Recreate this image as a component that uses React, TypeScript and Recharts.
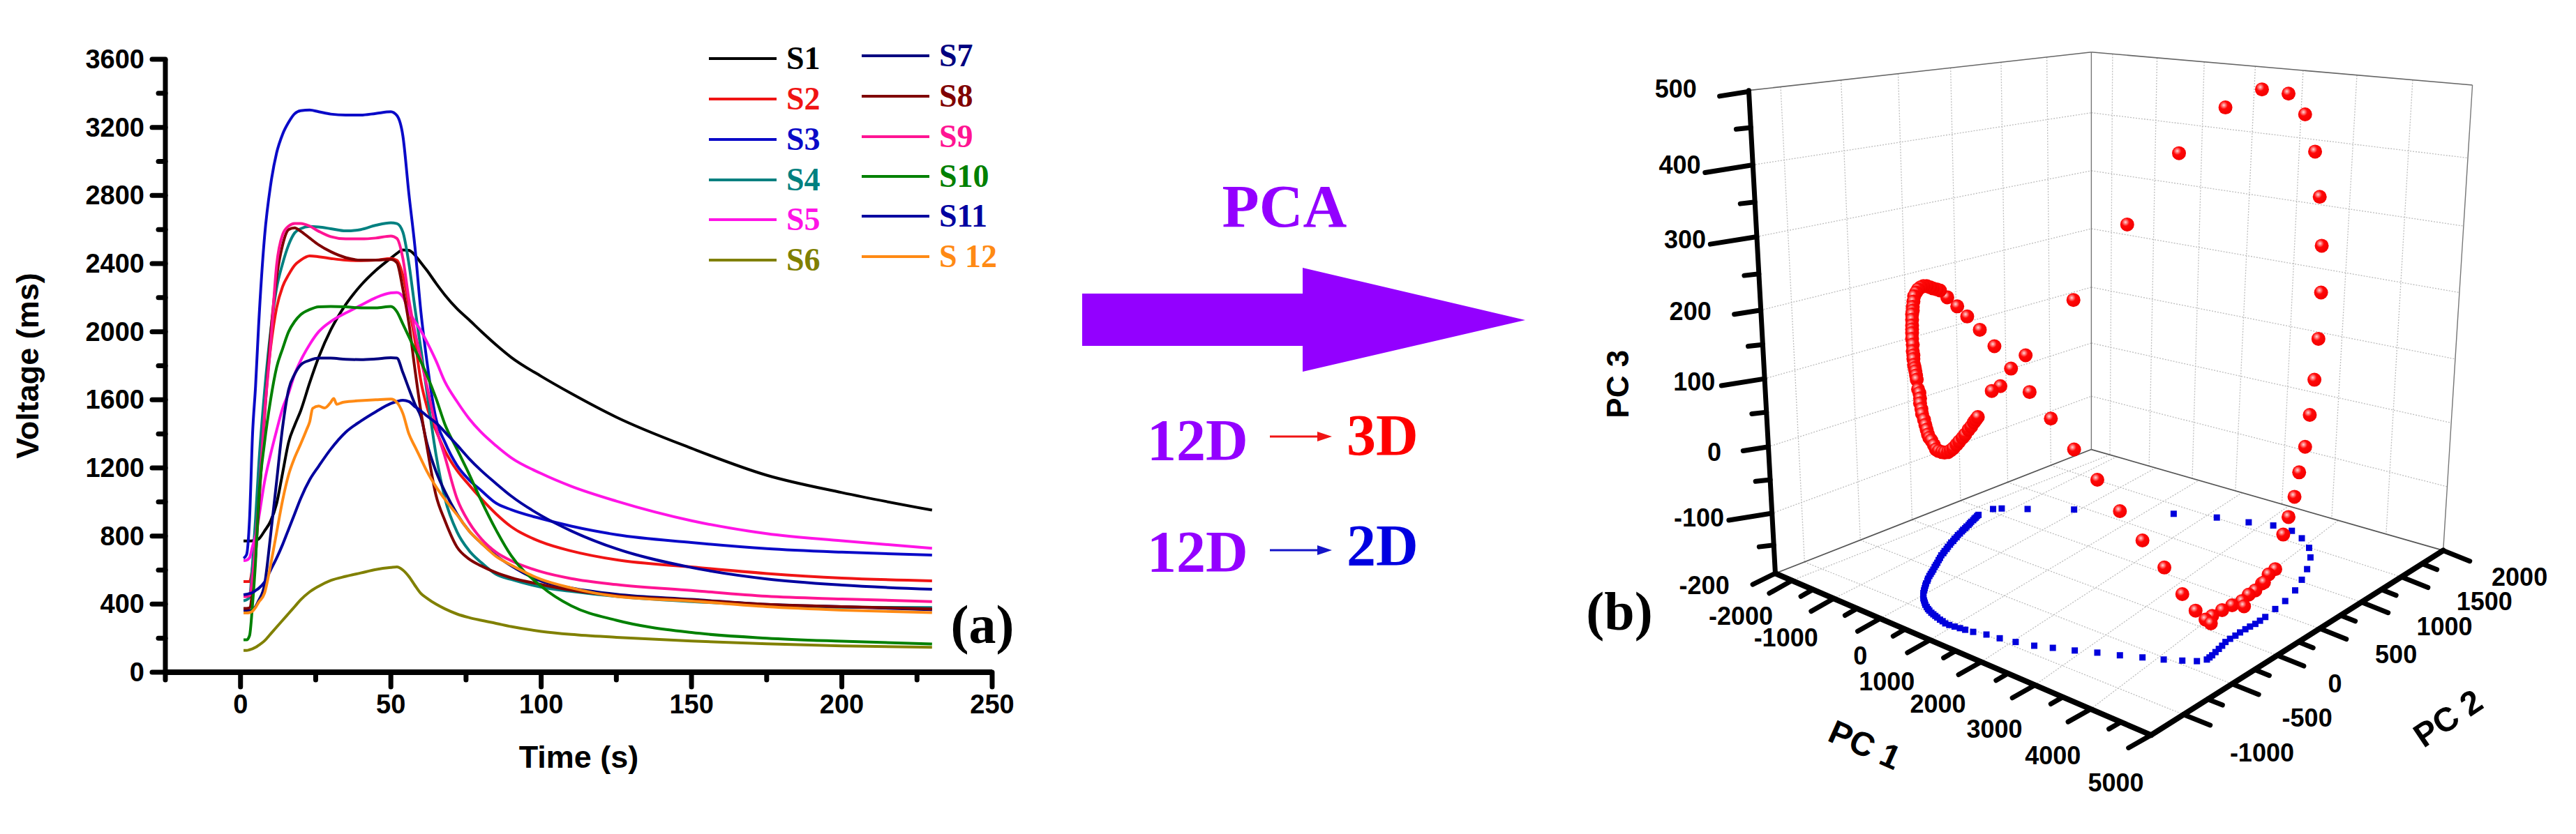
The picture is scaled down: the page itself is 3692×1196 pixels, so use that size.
import { LineChart, Line, XAxis, YAxis, Legend, Label, ScatterChart, Scatter, ReferenceLine, ReferenceDot } from "recharts";

const SANS = "'Liberation Sans', Arial, sans-serif";
const SERIF = "'Liberation Serif', 'Times New Roman', serif";

// panel (a)
const TIME = [1, 2, 3, 4, 5, 6, 8, 10, 12, 14, 16, 18, 20, 23, 26, 30, 35, 40, 45, 50, 52, 54, 56, 58, 60, 62, 65, 68, 72, 76, 80, 85, 90, 100, 110, 125, 150, 175, 200, 230];
const S1 = [771, 771, 771, 772, 775, 782, 830, 887, 990, 1170, 1351, 1450, 1535, 1700, 1850, 2010, 2160, 2272, 2360, 2432, 2460, 2480, 2478, 2450, 2405, 2360, 2285, 2215, 2135, 2070, 2003, 1923, 1850, 1738, 1637, 1498, 1315, 1157, 1055, 952];
const S2 = [532, 532, 532, 620, 790, 1150, 1570, 1905, 2140, 2265, 2335, 2390, 2420, 2445, 2440, 2430, 2420, 2417, 2420, 2430, 2420, 2330, 2150, 1950, 1708, 1560, 1420, 1300, 1185, 1100, 1020, 930, 855, 765, 712, 660, 618, 580, 553, 537];
const S3 = [669, 690, 900, 1400, 1680, 2030, 2560, 2860, 3050, 3160, 3230, 3280, 3298, 3302, 3292, 3278, 3272, 3272, 3282, 3292, 3270, 3150, 2810, 2500, 2116, 1825, 1490, 1350, 1215, 1130, 1068, 993, 955, 902, 858, 808, 762, 726, 705, 688];
const S4 = [420, 425, 440, 640, 900, 1200, 1650, 2000, 2256, 2400, 2510, 2580, 2605, 2618, 2615, 2605, 2592, 2600, 2625, 2640, 2635, 2585, 2400, 2140, 1897, 1645, 1280, 1020, 825, 715, 645, 575, 545, 500, 475, 445, 415, 395, 382, 380];
const S5 = [655, 658, 672, 740, 800, 900, 1120, 1280, 1420, 1550, 1640, 1750, 1830, 1925, 2000, 2060, 2110, 2155, 2200, 2228, 2230, 2205, 2120, 2060, 2005, 1940, 1830, 1705, 1590, 1490, 1410, 1330, 1260, 1167, 1092, 1005, 890, 814, 772, 728];
const S6 = [128, 128, 132, 138, 146, 158, 185, 225, 265, 305, 345, 385, 425, 472, 505, 539, 563, 583, 603, 615, 618, 600, 562, 510, 462, 435, 400, 372, 342, 321, 305, 287, 268, 240, 222, 205, 183, 167, 155, 146];
const S7 = [362, 362, 362, 368, 385, 420, 515, 805, 1120, 1440, 1660, 1750, 1805, 1832, 1845, 1845, 1838, 1836, 1840, 1847, 1845, 1760, 1665, 1575, 1500, 1345, 1180, 1060, 930, 830, 760, 685, 625, 535, 495, 458, 428, 398, 385, 367];
const S8 = [375, 375, 378, 480, 680, 950, 1500, 1980, 2320, 2510, 2600, 2610, 2590, 2550, 2510, 2470, 2435, 2420, 2420, 2425, 2405, 2250, 2050, 1780, 1531, 1325, 1040, 890, 735, 665, 625, 585, 555, 515, 482, 450, 425, 398, 385, 372];
const S9 = [444, 444, 450, 560, 760, 1000, 1520, 1920, 2390, 2570, 2620, 2635, 2636, 2620, 2590, 2558, 2545, 2545, 2550, 2562, 2548, 2430, 2189, 2000, 1840, 1680, 1440, 1265, 1020, 880, 785, 705, 655, 590, 550, 515, 480, 446, 430, 415];
const S10 = [190, 190, 215, 400, 650, 1000, 1350, 1600, 1790, 1900, 2000, 2060, 2100, 2130, 2146, 2148, 2146, 2140, 2140, 2148, 2118, 2045, 1970, 1895, 1824, 1745, 1610, 1455, 1310, 1165, 1010, 835, 685, 505, 390, 305, 233, 200, 182, 166];
const S11 = [455, 458, 462, 468, 480, 492, 530, 600, 670, 750, 840, 930, 1020, 1130, 1210, 1310, 1410, 1475, 1530, 1578, 1590, 1597, 1590, 1560, 1535, 1505, 1465, 1410, 1335, 1255, 1185, 1108, 1035, 920, 830, 725, 615, 548, 512, 487];
// S12 has the small jags near the plateau, so it keeps its own time steps
const S12_TIME = [1, 2, 3, 4, 5, 6, 8, 10, 12, 14, 16, 18, 20, 22, 23, 24, 26, 28, 30, 31, 32, 34, 36, 40, 45, 50, 52, 54, 56, 58, 60, 62, 65, 68, 72, 76, 80, 85, 90, 100, 110, 125, 150, 175, 200, 230];
const S12 = [348, 348, 350, 358, 380, 410, 465, 630, 820, 1010, 1160, 1260, 1340, 1425, 1470, 1550, 1563, 1552, 1585, 1608, 1574, 1585, 1590, 1595, 1600, 1604, 1585, 1520, 1400, 1325, 1253, 1180, 1090, 1015, 925, 830, 760, 680, 630, 545, 495, 445, 418, 385, 365, 350];

const SERIES = [S1, S2, S3, S4, S5, S6, S7, S8, S9, S10, S11];
const NAMES = ["S1", "S2", "S3", "S4", "S5", "S6", "S7", "S8", "S9", "S10", "S11"];
const COLORS = ["#000000", "#f01414", "#0a0ac8", "#008080", "#ff14e6", "#808000", "#000080", "#800000", "#ff1493", "#008000", "#0000a0"];
const S12_COLOR = "#ff8a14";
const LEGEND_LABELS = ["S1", "S2", "S3", "S4", "S5", "S6", "S7", "S8", "S9", "S10", "S11", "S 12"];

const X_TICKS = [-25, 0, 25, 50, 75, 100, 125, 150, 175, 200, 225, 250];
const X_LABELS = [0, 50, 100, 150, 200, 250];
const Y_TICKS = [0, 200, 400, 600, 800, 1000, 1200, 1400, 1600, 1800, 2000, 2200, 2400, 2600, 2800, 3000, 3200, 3400, 3600];
const Y_LABELS = [0, 400, 800, 1200, 1600, 2000, 2400, 2800, 3200, 3600];

const rows = TIME.map((t, i) => {
  const row: any = { t };
  NAMES.forEach((n, k) => (row[n] = SERIES[k][i]));
  return row;
});
const s12Rows = S12_TIME.map((t, i) => ({ t, S12: S12[i] }));

// panel (b): points, in a 1568 x 1568 plane
const RED_X = [1115, 1105, 1095, 1085, 1075, 1065, 1050, 1035, 1020, 1010, 1018, 995, 975, 948, 915, 881, 847, 812, 777, 745, 739, 717, 701, 688, 692, 670, 651, 636, 621, 610, 605, 599, 595, 590, 585, 581, 577, 574, 571, 570, 569, 569, 568, 568, 568, 568, 568, 568, 569, 569, 570, 570, 571, 572, 573, 574, 575, 577, 579, 580, 580, 582, 583, 586, 588, 590, 592, 594, 597, 601, 604, 608, 613, 617, 622, 626, 630, 635, 639, 644, 648, 653, 657, 661, 664, 667, 1127, 1135, 1144, 1151, 1160, 1167, 1174, 1180, 1184, 1185, 1182, 1175, 1160, 1135, 1095, 1040, 970, 892, 811, 1068, 1098];
const RED_Y = [1070, 1080, 1097, 1110, 1118, 1130, 1138, 1147, 1158, 1165, 1172, 1148, 1117, 1067, 1016, 961, 902, 845, 787, 737, 668, 693, 726, 735, 651, 620, 595, 576, 559, 546, 544, 542, 540, 538, 538, 540, 544, 550, 557, 567, 577, 584, 591, 601, 612, 619, 626, 637, 648, 660, 668, 675, 686, 692, 698, 706, 714, 732, 739, 749, 758, 769, 778, 789, 799, 808, 817, 823, 828, 837, 845, 848, 850, 851, 850, 847, 843, 836, 830, 823, 817, 808, 802, 794, 789, 784, 1005, 972, 934, 888, 840, 780, 714, 637, 550, 462, 370, 285, 215, 176, 168, 202, 288, 422, 564, 1140, 1095];
const BLUE_X = [668, 666, 664, 662, 660, 657, 655, 653, 650, 648, 645, 643, 640, 637, 635, 632, 630, 627, 625, 622, 620, 617, 615, 612, 610, 608, 606, 604, 602, 600, 598, 596, 594, 592, 591, 589, 588, 587, 586, 585, 585, 585, 586, 587, 588, 590, 592, 594, 597, 600, 603, 606, 610, 614, 618, 624, 632, 640, 648, 660, 680, 700, 724, 752, 780, 813, 847, 881, 915, 947, 975, 997, 1012, 1016, 1020, 1025, 1030, 1035, 1040, 1047, 1055, 1062, 1070, 1077, 1085, 1092, 1100, 1115, 1130, 1145, 1155, 1163, 1168, 1166, 1155, 1140, 1112, 1075, 1027, 962, 885, 812, 742, 703, 690];
const BLUE_Y = [968, 970, 973, 975, 978, 981, 984, 987, 990, 993, 996, 999, 1003, 1006, 1010, 1013, 1017, 1020, 1024, 1028, 1032, 1036, 1040, 1044, 1049, 1053, 1058, 1062, 1066, 1071, 1075, 1079, 1083, 1088, 1092, 1097, 1101, 1106, 1110, 1115, 1120, 1125, 1129, 1133, 1137, 1141, 1145, 1148, 1152, 1155, 1158, 1161, 1165, 1168, 1172, 1175, 1178, 1181, 1184, 1188, 1193, 1200, 1207, 1214, 1218, 1223, 1227, 1232, 1236, 1240, 1242, 1243, 1240, 1236, 1232, 1226, 1220, 1214, 1207, 1201, 1195, 1189, 1183, 1178, 1173, 1167, 1160, 1145, 1130, 1110, 1090, 1070, 1048, 1030, 1012, 998, 988, 982, 973, 966, 960, 958, 957, 956, 957];

const redPts = RED_X.map((x, i) => ({ x, y: RED_Y[i] }));
const bluePts = BLUE_X.map((x, i) => ({ x, y: BLUE_Y[i] }));

// frame of the 3D box in the same plane
const O = { x: 362, y: 1078 }; // bottom of PC3 axis
const TOP = { x: 322, y: 170 };
const BACK_TOP = { x: 838, y: 98 };
const BACK_BOT = { x: 838, y: 845 };
const RIGHT_TOP = { x: 1412, y: 160 };
const RIGHT_BOT = { x: 1368, y: 1035 };
const FRONT = { x: 928, y: 1382 };

const PC3_AXIS_Y = [172, 310, 445, 583, 712, 840, 965, 1078];
const PC3_TICK_LEN = [44, 72, 70, 40, 65, 38, 65, 34];
const PC3_MINOR_Y = [240, 380, 515, 648, 775, 902, 1025];
const PC3_BACK_Y = [98, 212, 321, 430, 540, 645, 745, 845];
const PC3_RIGHT_Y = [160, 297, 425, 550, 675, 795, 915, 1035];

const PC1_AXIS_X = [387, 450, 520, 595, 672, 753, 837, 928];
const PC2_AXIS_X = [977, 1050, 1118, 1182, 1245, 1305, 1368];
const BACK_LEFT_X = [406, 490, 568, 641, 712, 777];
const LEFT_TOP_X = [370, 461, 547, 626, 702, 771];
const RIGHT_WALL_TOP_X = [870, 937, 1008, 1085, 1157, 1238, 1322];
const RIGHT_WALL_BOT_X = [866, 925, 990, 1055, 1125, 1200, 1282];

const onLine = (a: any, b: any, x: number) => ({ x, y: a.y + ((x - a.x) / (b.x - a.x)) * (b.y - a.y) });
const onLineY = (a: any, b: any, y: number) => ({ y, x: a.x + ((y - a.y) / (b.y - a.y)) * (b.x - a.x) });

const PC3_LABELS = ["500", "400", "300", "200", "100", "0", "-100", "-200"];
const PC3_LABEL_POS = [[212, 167], [218, 310], [226, 450], [234, 585], [240, 718], [270, 850], [247, 973], [255, 1100]];
const PC1_LABELS = ["-2000", "-1000", "0", "1000", "2000", "3000", "4000", "5000"];
const PC1_LABEL_POS = [[310, 1158], [378, 1199], [490, 1233], [530, 1282], [607, 1323], [692, 1370], [780, 1420], [875, 1472]];
const PC2_LABELS = ["-1000", "-500", "0", "500", "1000", "1500", "2000"];
const PC2_LABEL_POS = [[1095, 1415], [1163, 1350], [1205, 1285], [1297, 1230], [1370, 1178], [1430, 1130], [1483, 1085]];

const XTick = (p: any) => {
  const v = p.payload.value;
  const major = X_LABELS.includes(v);
  return (
    <g>
      <line x1={p.x} x2={p.x} y1={p.y} y2={p.y + (major ? 21 : 11)} stroke="#000" strokeWidth={7} strokeLinecap="round" />
      {major && (
        <text x={p.x} y={p.y + 59} textAnchor="middle" fontFamily={SANS} fontWeight="bold" fontSize={38} fill="#000">
          {v}
        </text>
      )}
    </g>
  );
};

const YTick = (p: any) => {
  const v = p.payload.value;
  const major = Y_LABELS.includes(v);
  return (
    <g>
      <line x1={p.x} x2={p.x - (major ? 19 : 10)} y1={p.y} y2={p.y} stroke="#000" strokeWidth={7} strokeLinecap="round" />
      {major && (
        <text x={p.x - 30} y={p.y + 13} textAnchor="end" fontFamily={SANS} fontWeight="bold" fontSize={38} fill="#000">
          {v}
        </text>
      )}
    </g>
  );
};

const legendRow = [84, 142, 200, 258, 315, 373, 80, 138, 196, 253, 310, 368];

const renderLegend = () => (
  <svg width={1560} height={500} style={{ overflow: "visible" }}>
    {LEGEND_LABELS.map((label, i) => {
      const second = i >= 6;
      const color = i === 11 ? S12_COLOR : COLORS[i];
      const x0 = second ? 1235 : 1016;
      return (
        <g key={label}>
          <line x1={x0} x2={x0 + 97} y1={legendRow[i]} y2={legendRow[i]} stroke={color} strokeWidth={4} />
          <text x={x0 + 111} y={legendRow[i] + 15} fontFamily={SERIF} fontWeight="bold" fontSize={46} fill={color}>
            {label}
          </text>
        </g>
      );
    })}
  </svg>
);

const RedBall = (p: any) => <circle cx={p.cx} cy={p.cy} r={10} fill="url(#ballGrad)" />;
const BlueSquare = (p: any) => <rect x={p.cx - 4.5} y={p.cy - 4.5} width={9} height={9} fill="#0000dc" />;

const plotText = (key: string, x: number, y: number, text: string, rotate = 0, size = 36) => (
  <ReferenceDot
    key={key}
    x={x}
    y={y}
    r={0}
    ifOverflow="visible"
    shape={(p: any) => (
      <text
        x={p.cx}
        y={p.cy}
        dy="0.35em"
        textAnchor="middle"
        transform={rotate ? `rotate(${rotate} ${p.cx} ${p.cy})` : undefined}
        fontFamily={SANS}
        fontWeight="bold"
        fontSize={size}
        fill="#000"
      >
        {text}
      </text>
    )}
  />
);

const seg = (key: string, a: any, b: any, stroke: string, width: number, dash?: string, cap?: string) => (
  <ReferenceLine key={key} segment={[a, b]} stroke={stroke} strokeWidth={width} strokeDasharray={dash} strokeLinecap={cap as any} ifOverflow="visible" />
);

const GRID = "#bdbdbd";
const grid = (key: string, a: any, b: any) => seg(key, a, b, GRID, 1.3, "2 2");

const gridLines = () => {
  const out: any[] = [];
  // left wall
  LEFT_TOP_X.forEach((x, i) => out.push(grid(`lv${i}`, onLine(TOP, BACK_TOP, x), onLine(O, BACK_BOT, BACK_LEFT_X[i]))));
  PC3_AXIS_Y.slice(1, 7).forEach((y, i) => out.push(grid(`lh${i}`, onLineY(TOP, O, y), { x: BACK_TOP.x, y: PC3_BACK_Y[i + 1] })));
  // right wall
  RIGHT_WALL_TOP_X.forEach((x, i) => out.push(grid(`rv${i}`, onLine(BACK_TOP, RIGHT_TOP, x), onLine(BACK_BOT, RIGHT_BOT, RIGHT_WALL_BOT_X[i]))));
  PC3_BACK_Y.slice(1, 7).forEach((y, i) => out.push(grid(`rh${i}`, { x: BACK_TOP.x, y }, onLineY(RIGHT_TOP, RIGHT_BOT, PC3_RIGHT_Y[i + 1]))));
  // floor
  BACK_LEFT_X.forEach((x, i) => out.push(grid(`f1${i}`, onLine(O, BACK_BOT, x), onLine(FRONT, RIGHT_BOT, PC2_AXIS_X[i]))));
  PC1_AXIS_X.slice(0, 7).forEach((x, i) => out.push(grid(`f2${i}`, onLine(O, FRONT, x), onLine(BACK_BOT, RIGHT_BOT, i === 0 ? 866 : RIGHT_WALL_BOT_X[i - 1] + 10))));
  return out;
};

const frameLines = () => {
  const out: any[] = [];
  out.push(seg("e1", TOP, BACK_TOP, "#666", 1.6));
  out.push(seg("e2", BACK_TOP, BACK_BOT, "#777", 1.4));
  out.push(seg("e3", BACK_TOP, RIGHT_TOP, "#666", 1.6));
  out.push(seg("e4", RIGHT_TOP, RIGHT_BOT, "#777", 1.4));
  out.push(seg("e5", O, BACK_BOT, "#555", 1.8));
  out.push(seg("e6", BACK_BOT, RIGHT_BOT, "#555", 1.8));
  return out;
};

const axisLines = () => {
  const out: any[] = [];
  out.push(seg("pc3", TOP, O, "#000", 7, undefined, "round"));
  out.push(seg("pc1", O, FRONT, "#000", 8, undefined, "round"));
  out.push(seg("pc2", FRONT, RIGHT_BOT, "#000", 8, undefined, "round"));
  PC3_AXIS_Y.forEach((y, i) => {
    const a = onLineY(TOP, O, y);
    const len = PC3_TICK_LEN[i];
    out.push(seg(`t3${i}`, a, { x: a.x - len, y: a.y + len * 0.2 + (i === 7 ? 14 : 0) }, "#000", 7, undefined, "round"));
  });
  PC3_MINOR_Y.forEach((y, i) => {
    const a = onLineY(TOP, O, y);
    out.push(seg(`m3${i}`, a, { x: a.x - 22, y: a.y + 3 }, "#000", 7, undefined, "round"));
  });
  PC1_AXIS_X.forEach((x, i) => {
    const a = onLine(O, FRONT, x);
    out.push(seg(`t1${i}`, a, { x: a.x - 34, y: a.y + 24 }, "#000", 7, undefined, "round"));
    if (i < 7) {
      const m = onLine(O, FRONT, (x + PC1_AXIS_X[i + 1]) / 2);
      out.push(seg(`m1${i}`, m, { x: m.x - 18, y: m.y + 13 }, "#000", 7, undefined, "round"));
    }
  });
  PC2_AXIS_X.forEach((x, i) => {
    const a = onLine(FRONT, RIGHT_BOT, x);
    out.push(seg(`t2${i}`, a, { x: a.x + 40, y: a.y + 20 }, "#000", 7, undefined, "round"));
    if (i < 6) {
      const m = onLine(FRONT, RIGHT_BOT, (x + PC2_AXIS_X[i + 1]) / 2);
      out.push(seg(`m2${i}`, m, { x: m.x + 22, y: m.y + 11 }, "#000", 7, undefined, "round"));
    }
  });
  return out;
};

const PURPLE = "#9300ff";

const Middle = () => (
  <svg width={3692} height={1196} style={{ position: "absolute", left: 0, top: 0, pointerEvents: "none" }}>
    <polygon points="1551,421 1867,421 1867,384 2186,459 1867,533 1867,496 1551,496" fill={PURPLE} />
    <g fontFamily={SERIF} fontWeight="bold">
      <text x={1841} y={325} textAnchor="middle" fontSize={87} fill={PURPLE}>PCA</text>
      <text x={1644} y={660} fontSize={84} fill={PURPLE}>12D</text>
      <text x={1930} y={653} fontSize={84} fill="#ff0000">3D</text>
      <text x={1644} y={820} fontSize={84} fill={PURPLE}>12D</text>
      <text x={1930} y={811} fontSize={84} fill="#0000e0">2D</text>
      <text x={1408} y={922} textAnchor="middle" fontSize={78} fill="#000">(a)</text>
      <text x={2321} y={903} textAnchor="middle" fontSize={78} fill="#000">(b)</text>
    </g>
    <line x1={1820} x2={1895} y1={626} y2={626} stroke="#f01414" strokeWidth={3} />
    <polygon points="1888,619 1909,626 1888,633" fill="#f01414" />
    <line x1={1820} x2={1895} y1={789} y2={789} stroke="#1414c8" strokeWidth={3} />
    <polygon points="1888,782 1909,789 1888,796" fill="#1414c8" />
  </svg>
);

export default function App() {
  return (
    <div style={{ position: "absolute", left: 0, top: 0, width: 3692, height: 1196, background: "#fff", overflow: "hidden" }}>
      <div style={{ position: "absolute", left: 0, top: 0 }}>
        <LineChart width={1560} height={1196} data={rows} margin={{ top: 85, right: 138, bottom: 0, left: 0 }}>
          <XAxis
            dataKey="t"
            type="number"
            domain={[-25, 250]}
            ticks={X_TICKS}
            interval={0}
            height={232}
            axisLine={{ stroke: "#000", strokeWidth: 8 }}
            tickLine={false}
            tickSize={0}
            tickMargin={0}
            tick={XTick}
          >
            <Label value="Time (s)" position="insideBottom" offset={95} fontFamily={SANS} fontWeight="bold" fontSize={45} fill="#000" />
          </XAxis>
          <YAxis
            type="number"
            domain={[0, 3600]}
            ticks={Y_TICKS}
            interval={0}
            width={237}
            axisLine={{ stroke: "#000", strokeWidth: 7 }}
            tickLine={false}
            tickSize={0}
            tickMargin={0}
            tick={YTick}
          >
            <Label value="Voltage (ms)" angle={-90} position="insideLeft" offset={39} dy={0} style={{ textAnchor: "middle" }} fontFamily={SANS} fontWeight="bold" fontSize={45} fill="#000" />
          </YAxis>
          <Legend verticalAlign="middle" layout="horizontal" content={renderLegend} wrapperStyle={{ position: "absolute", left: 0, top: 0, width: 1560, height: 500 }} />
          {NAMES.map((n, k) => (
            <Line key={n} dataKey={n} name={n} type="monotone" stroke={COLORS[k]} strokeWidth={4} dot={false} isAnimationActive={false} />
          ))}
          <Line data={s12Rows} dataKey="S12" name="S 12" type="monotone" stroke={S12_COLOR} strokeWidth={4} dot={false} isAnimationActive={false} />
        </LineChart>
      </div>

      <div style={{ position: "absolute", left: 2200, top: 0 }}>
        <ScatterChart width={1492} height={1196} margin={{ top: 0, right: 0, bottom: 0, left: 0 }}>
          <defs>
            <radialGradient id="ballGrad" cx="38%" cy="34%" r="62%">
              <stop offset="0%" stopColor="#ffd8d8" />
              <stop offset="22%" stopColor="#ff7070" />
              <stop offset="45%" stopColor="#ff0808" />
              <stop offset="100%" stopColor="#f40000" />
            </radialGradient>
          </defs>
          <XAxis dataKey="x" type="number" domain={[0, 1568]} hide />
          <YAxis dataKey="y" type="number" domain={[0, 1568]} reversed hide width={0} />
          {gridLines()}
          {frameLines()}
          {axisLines()}
          <Scatter data={bluePts} shape={BlueSquare} isAnimationActive={false} />
          <Scatter data={redPts} shape={RedBall} isAnimationActive={false} />
          {PC3_LABELS.map((t, i) => plotText(`l3${i}`, PC3_LABEL_POS[i][0], PC3_LABEL_POS[i][1], t))}
          {PC1_LABELS.map((t, i) => plotText(`l1${i}`, PC1_LABEL_POS[i][0], PC1_LABEL_POS[i][1], t))}
          {PC2_LABELS.map((t, i) => plotText(`l2${i}`, PC2_LABEL_POS[i][0], PC2_LABEL_POS[i][1], t))}
          {plotText("pc1t", 497, 1400, "PC 1", 24, 48)}
          {plotText("pc2t", 1375, 1350, "PC 2", -34, 48)}
          {plotText("pc3t", 125, 722, "PC 3", -90, 44)}
        </ScatterChart>
      </div>

      <Middle />
    </div>
  );
}
